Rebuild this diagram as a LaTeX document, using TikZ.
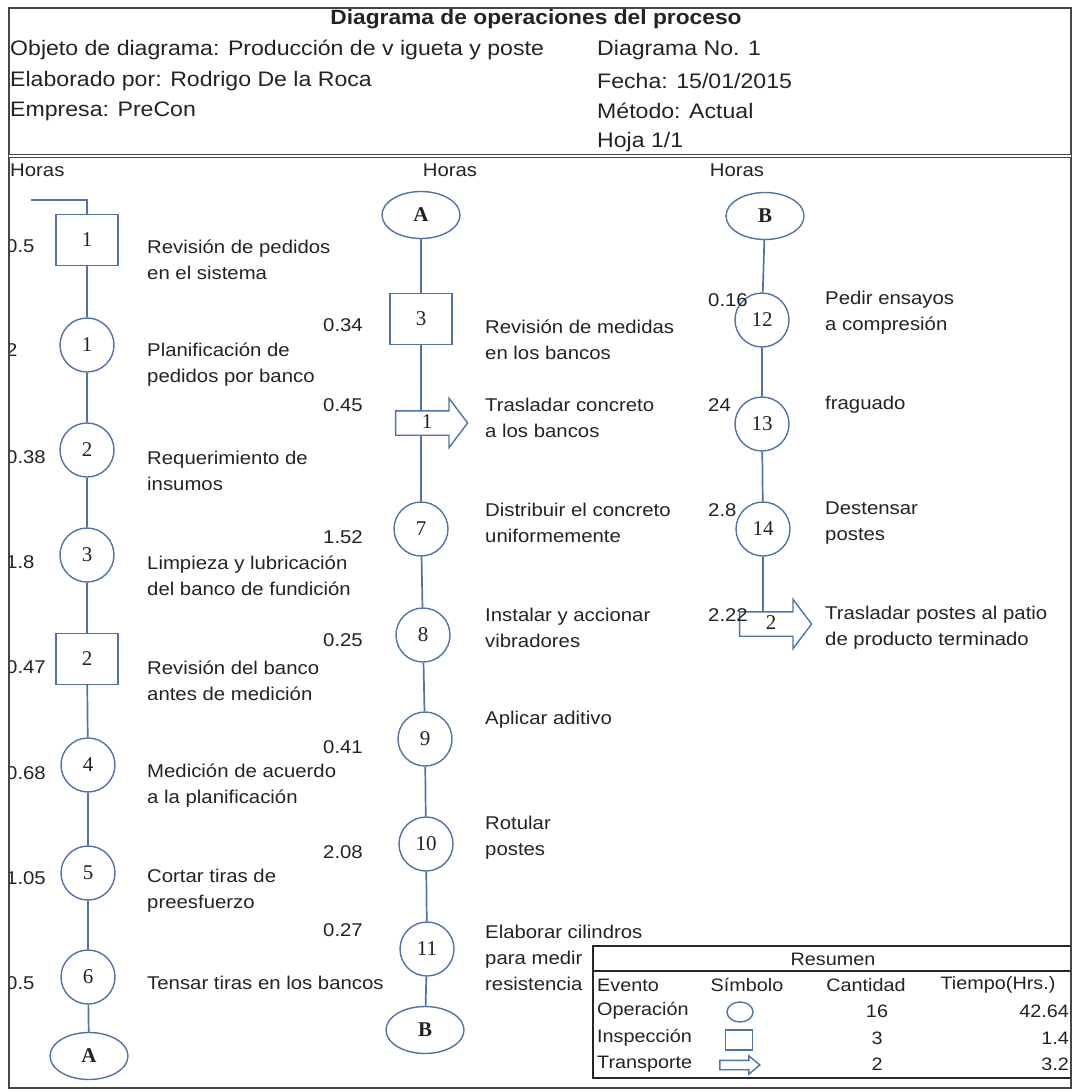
\documentclass[tikz,border=0pt]{standalone}
\usepackage{fontspec}
\setmainfont{Liberation Sans}[FakeStretch=1.1]
\newfontfamily\numfont{Liberation Serif}
\usepackage{tikz}
\usetikzlibrary{shapes.geometric, shapes.arrows, backgrounds}
\definecolor{PCShape}{RGB}{79, 114, 168}
\definecolor{PCText}{RGB}{35, 35, 35}
\definecolor{PCFrame}{RGB}{70, 70, 70}

\begin{document}
\begin{tikzpicture}[x=1pt, y=-1pt,
  opcirc/.style={circle, draw=PCShape, fill=white, line width=1.4pt, minimum size=54, inner sep=0pt, text=PCText, font=\numfont\fontsize{21}{21}\selectfont},
  inspbox/.style={rectangle, draw=PCShape, fill=white, line width=1.4pt, minimum width=62, minimum height=51, inner sep=0pt, text=PCText, font=\numfont\fontsize{21}{21}\selectfont},
  linkoval/.style={ellipse, draw=PCShape, fill=white, line width=1.4pt, minimum width=78, minimum height=47, inner sep=0pt, text=PCText, font=\numfont\bfseries\fontsize{21}{21}\selectfont},
  transp/.style={single arrow, draw=PCShape, fill=white, line width=1.4pt, minimum height=72, single arrow head extend=12.5, single arrow tip angle=106, text height=11, text depth=0pt, inner ysep=6, inner xsep=0pt, text=PCText, font=\numfont\fontsize{21}{21}\selectfont},
  flow/.style={draw=PCShape, line width=1.7pt},
  hrs/.style={inner sep=0pt, text=PCText, font=\fontsize{18.5}{26}\selectfont},
  desc/.style={anchor=west, align=left, inner sep=0pt, text=PCText, font=\fontsize{18.5}{26}\selectfont},
  head/.style={anchor=west, inner sep=0pt, text=PCText, font=\fontsize{21}{30}\selectfont},
  cell/.style={inner sep=0pt, text=PCText, font=\fontsize{18}{24}\selectfont}]
  \path[use as bounding box] (0,0) rectangle (1073,1092);

  % encabezado
  \node[inner sep=0pt, text=PCText, font=\fontsize{20.7}{24}\selectfont\bfseries] (title) at (536,19) {Diagrama de operaciones del proceso};
  \node[head] (objeto) at (10,50) {Objeto de diagrama: Producción de v igueta y poste};
  \node[head] (autor) at (10,81) {Elaborado por: Rodrigo De la Roca};
  \node[head] (empresa) at (10,111) {Empresa: PreCon};
  \node[head] (numero) at (597,50) {Diagrama No. 1};
  \node[head] (fecha) at (597,81) {Fecha: 15/01/2015};
  \node[head] (metodo) at (597,111) {Método: Actual};
  \node[head] (hoja) at (597,142) {Hoja 1/1};
  \node[hrs, anchor=west] (horasA) at (10,170) {Horas};
  \node[hrs] (horasB) at (450,170) {Horas};
  \node[hrs] (horasC) at (737,170) {Horas};

  % columna 1
  \coordinate (inicio) at (31,200);
  \node[inspbox] (ins1) at (87,240) {1};
  \node[opcirc] (op1) at (87,345) {1};
  \node[opcirc] (op2) at (87,450) {2};
  \node[opcirc] (op3) at (87,555) {3};
  \node[inspbox] (ins2) at (87,659) {2};
  \node[opcirc] (op4) at (88,765) {4};
  \node[opcirc] (op5) at (88,873) {5};
  \node[opcirc] (op6) at (88,977) {6};
  \node[linkoval] (conA1) at (89,1056) {A};

  % columna 2
  \node[linkoval] (conA2) at (421,215) {A};
  \node[inspbox] (ins3) at (421,319) {3};
  \node[transp] (tr1) at (427,423) {1};
  \node[opcirc] (op7) at (421,529) {7};
  \node[opcirc] (op8) at (423,635) {8};
  \node[opcirc] (op9) at (425,739) {9};
  \node[opcirc] (op10) at (426,844) {10};
  \node[opcirc] (op11) at (427,949) {11};
  \node[linkoval] (conB1) at (425,1030) {B};

  % columna 3
  \node[linkoval] (conB2) at (765,216) {B};
  \node[opcirc] (op12) at (762,320) {12};
  \node[opcirc] (op13) at (762,424) {13};
  \node[opcirc] (op14) at (763,529) {14};
  \node[transp] (tr2) at (771,624) {2};

  \begin{scope}[on background layer]
    \draw[flow] (inicio) -| (ins1);
    \draw[flow] (ins1) -- (op1) -- (op2) -- (op3) -- (ins2) -- (op4) -- (op5) -- (op6) -- (conA1);
    \draw[flow] (conA2) -- (ins3) -- (op7) -- (op8) -- (op9) -- (op10) -- (op11) -- (conB1);
    \draw[flow] (conB2) -- (op12) -- (op13) -- (op14) -- (op14 |- tr2);
  \end{scope}

  % descripciones
  \node[desc] (d-ins1) at (147,260) {Revisión de pedidos\\en el sistema};
  \node[desc] (d-op1) at (147,365) {Planificación de\\pedidos por banco};
  \node[desc] (d-op2) at (147,471) {Requerimiento de\\insumos};
  \node[desc] (d-op3) at (147,576) {Limpieza y lubricación\\del banco de fundición};
  \node[desc] (d-ins2) at (147,681) {Revisión del banco\\antes de medición};
  \node[desc] (d-op4) at (147,786) {Medición de acuerdo\\a la planificación};
  \node[desc] (d-op5) at (147,891) {Cortar tiras de\\preesfuerzo};
  \node[desc] (d-op6) at (147,983) {Tensar tiras en los bancos};
  \node[desc] (d-ins3) at (485,340) {Revisión de medidas\\en los bancos};
  \node[desc] (d-tr1) at (485,418) {Trasladar concreto\\a los bancos};
  \node[desc] (d-op7) at (485,523) {Distribuir el concreto\\uniformemente};
  \node[desc] (d-op8) at (485,628) {Instalar y accionar\\vibradores};
  \node[desc] (d-op9) at (485,720) {Aplicar aditivo};
  \node[desc] (d-op10) at (485,838) {Rotular\\postes};
  \node[desc] (d-op11) at (485,958) {Elaborar cilindros\\para medir\\resistencia};
  \node[desc] (d-op12) at (825,313) {Pedir ensayos\\a compresión};
  \node[desc] (d-op13) at (825,405) {fraguado};
  \node[desc] (d-op14) at (825,523) {Destensar\\postes};
  \node[desc] (d-tr2) at (825,628) {Trasladar postes al patio\\de producto terminado};

  % horas
  \node[hrs, anchor=west] (h-ins1) at (6,246) {0.5};
  \node[hrs, anchor=west] (h-op1) at (6,350) {2};
  \node[hrs, anchor=west] (h-op2) at (6,457) {0.38};
  \node[hrs, anchor=west] (h-op3) at (6,562) {1.8};
  \node[hrs, anchor=west] (h-ins2) at (6,667) {0.47};
  \node[hrs, anchor=west] (h-op4) at (6,773) {0.68};
  \node[hrs, anchor=west] (h-op5) at (6,878) {1.05};
  \node[hrs, anchor=west] (h-op6) at (6,983) {0.5};
  \node[hrs, anchor=east] (h-ins3) at (363,325) {0.34};
  \node[hrs, anchor=east] (h-tr1) at (363,405) {0.45};
  \node[hrs, anchor=east] (h-op7) at (363,537) {1.52};
  \node[hrs, anchor=east] (h-op8) at (363,640) {0.25};
  \node[hrs, anchor=east] (h-op9) at (363,747) {0.41};
  \node[hrs, anchor=east] (h-op10) at (363,852) {2.08};
  \node[hrs, anchor=east] (h-op11) at (363,930) {0.27};
  \node[hrs, anchor=west] (h-op12) at (708,300) {0.16};
  \node[hrs, anchor=west] (h-op13) at (708,405) {24};
  \node[hrs, anchor=west] (h-op14) at (708,510) {2.8};
  \node[hrs, anchor=west] (h-tr2) at (708,615) {2.22};

  % resumen
  \fill[white] (593,946) rectangle (1071,1078);
  \draw[black!85, line width=1.8pt] (593,946) rectangle (1071,1078);
  \draw[black!85, line width=1.8pt] (593,971) -- (1071,971);
  \node[cell] (resumen) at (833,959) {Resumen};
  \node[cell, anchor=west] (evento) at (597,985) {Evento};
  \node[cell] (simbolo) at (747,985) {Símbolo};
  \node[cell] (cantidad) at (866,985) {Cantidad};
  \node[cell] (tiempo) at (998,985) {Tiempo(Hrs.)};
  \node[cell, anchor=west] (operacion) at (597,1011) {Operación};
  \node[cell, anchor=west] (inspeccion) at (597,1038) {Inspección};
  \node[cell, anchor=west] (transporte) at (597,1064) {Transporte};
  \node[ellipse, draw=PCShape, line width=1.4pt, minimum width=26, minimum height=20, inner sep=0pt] (s-op) at (740,1012) {};
  \node[rectangle, draw=PCShape, line width=1.4pt, minimum width=27, minimum height=20, inner sep=0pt] (s-ins) at (739,1040) {};
  \node[single arrow, draw=PCShape, line width=1.4pt, minimum height=40, single arrow head extend=4.5, single arrow tip angle=80, text height=0pt, text depth=0pt, inner ysep=4, inner xsep=0pt] (s-tr) at (737,1065) {};
  \node[cell] (n-op) at (877,1011) {16};
  \node[cell] (n-ins) at (877,1038) {3};
  \node[cell] (n-tr) at (877,1064) {2};
  \node[cell, anchor=east] (t-op) at (1069,1011) {42.64};
  \node[cell, anchor=east] (t-ins) at (1069,1038) {1.4};
  \node[cell, anchor=east] (t-tr) at (1069,1064) {3.2};

  % marco
  \fill[white] (0,156) rectangle (8.5,1092);
  \draw[PCFrame, line width=1.6pt] (9,8) rectangle (1071,1088);
  \draw[PCFrame, line width=1pt, double, double distance=1.2pt] (9,156) -- (1071,156);
\end{tikzpicture}
\end{document}
